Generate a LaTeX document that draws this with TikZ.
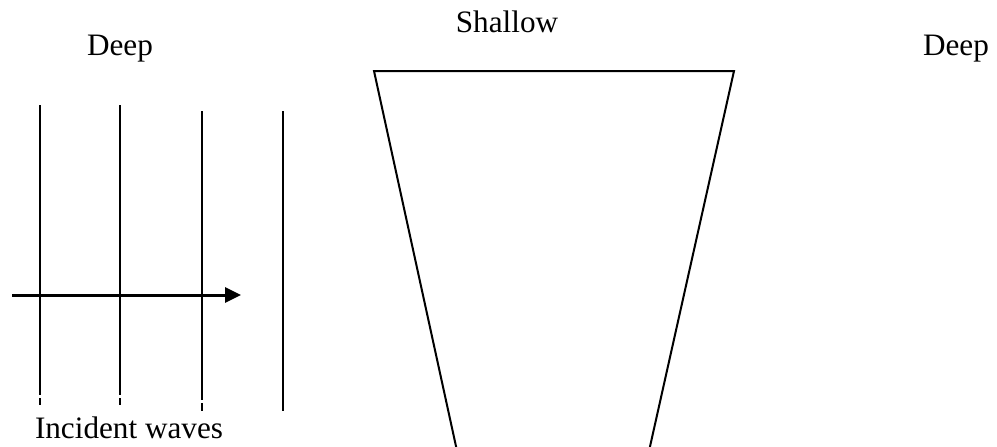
\documentclass[tikz,border=0pt]{standalone}
\usepackage{fontspec}
\setmainfont{Liberation Serif}
\usetikzlibrary{arrows.meta}
\begin{document}
\begin{tikzpicture}[x=0.5pt,y=-0.5pt,
  lbl/.style={inner sep=0pt,font=\fontsize{15.6}{18}\selectfont},
  wave/.style={line width=1pt},
  edge/.style={line width=1pt},
  ray/.style={line width=1.5pt,-{Triangle[length=8pt,width=7.5pt]}}]
\useasboundingbox (0,0) rectangle (997,446);
% labels
\node[lbl] (deepL) at (120,48.5) {Deep};
\node[lbl] (shallow) at (507,21.5) {Shallow};
\node[lbl] (deepR) at (956,48.5) {Deep};
\node[lbl] (incident) at (129,427.5) {Incident waves};
% wave fronts
\draw[wave] (40,105) -- (40,395) (40,398) -- (40,405);
\draw[wave] (120,105) -- (120,395) (120,398) -- (120,405);
\draw[wave] (202,111) -- (202,400) (202,403) -- (202,411);
\draw[wave] (283,111) -- (283,411);
% direction arrow
\coordinate (a0) at (12,295);
\coordinate (a1) at (241,295);
\draw[ray] (a0) -- (a1);
% shallow region
\begin{scope}
\clip (0,0) rectangle (997,446);
\draw[edge,line join=miter] (459,460) -- (374,71) -- (734,71) -- (647,460);
\end{scope}
\end{tikzpicture}
\end{document}
